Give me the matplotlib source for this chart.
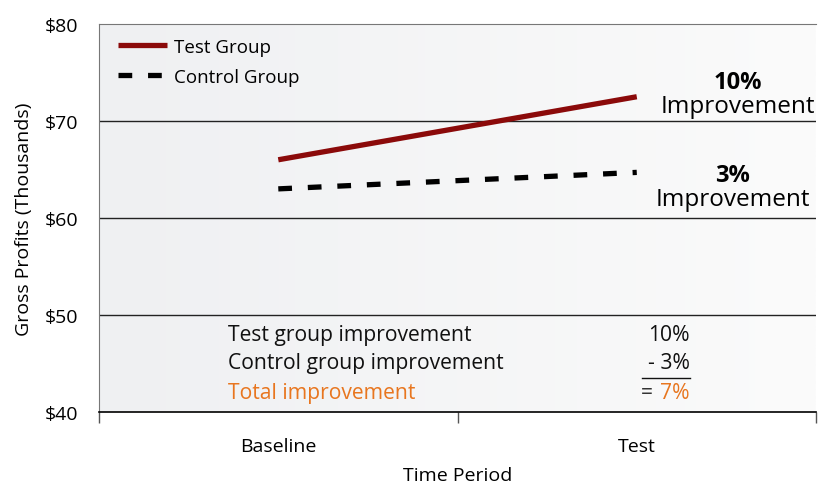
import numpy as np
import matplotlib
matplotlib.use("Agg")
import matplotlib.pyplot as plt

plt.rcParams["font.family"] = ["Open Sans", "DejaVu Sans"]

# data
periods = ["Baseline", "Test"]
test_group = [66.0, 72.5]
control_group = [63.0, 64.7]
y_ticks = [40, 50, 60, 70, 80]
y_labels = ["$40", "$50", "$60", "$70", "$80"]
table_labels = ["Test group improvement", "Control group improvement", "Total improvement"]
table_values = ["10%", "- 3%", "7%"]

red = "#8b0a0a"
orange = "#e8761f"

fig = plt.figure(figsize=(8.33, 4.85), dpi=100)
ax = fig.add_axes([0.1189, 0.1485, 0.8607, 0.8000])

x = np.arange(len(periods))
ax.set_xlim(-0.5, 1.5)
ax.set_ylim(40, 80)

# light gray to white gradient background
grad = np.linspace(0, 1, 256).reshape(1, -1)
cmap = matplotlib.colors.LinearSegmentedColormap.from_list("bg", ["#eff0f2", "#fbfbfb"])
ax.imshow(grad, extent=[-0.5, 1.5, 40, 80], aspect="auto", cmap=cmap, zorder=0)

for yv in [50, 60, 70]:
    ax.axhline(yv, color="#222222", lw=1.0, zorder=1)

ax.plot(x, test_group, color=red, lw=3.8, solid_capstyle="butt", label="Test Group", zorder=3)
ax.plot(x, control_group, color="black", lw=3.8, dashes=(2.6, 3.0), label="Control Group", zorder=3)

leg = ax.legend(loc="upper left", bbox_to_anchor=(0.007, 1.0), frameon=False, fontsize=13.5,
                handlelength=2.6, handletextpad=0.4, labelspacing=0.62, borderaxespad=0.35)

# improvement annotations
ax.text(1.282, 74.0, "10%", fontsize=17, fontweight="bold", ha="center", va="center")
ax.text(1.282, 71.5, "Improvement", fontsize=17.5, ha="center", va="center")
ax.text(1.268, 64.45, "3%", fontsize=17, fontweight="bold", ha="center", va="center")
ax.text(1.268, 62.0, "Improvement", fontsize=17.5, ha="center", va="center")

# summary table
row_y = [47.95, 45.05, 42.05]
for lbl, val, yy, col in zip(table_labels, table_values, row_y,
                             ["#111111", "#111111", orange]):
    ax.text(-0.141, yy, lbl, fontsize=15.2, color=col, ha="left", va="center")
    ax.text(1.148, yy, val, fontsize=15.2, color=col, ha="right", va="center")
ax.text(1.045, row_y[2], "=", fontsize=15.2, color="#333333", ha="right", va="center")
ax.plot([1.015, 1.148], [43.5, 43.5], color="#111111", lw=1.0, zorder=2)

# axes styling
ax.set_yticks(y_ticks)
ax.set_yticklabels(y_labels, fontsize=14)
ax.tick_params(axis="y", length=0, pad=15)
ax.set_xticks(x)
ax.set_xticklabels(periods, fontsize=14)
ax.set_xticks([-0.5, 0.5, 1.5], minor=True)
ax.tick_params(axis="x", which="major", length=0, pad=18)
ax.tick_params(axis="x", which="minor", length=8, width=1.0, color="#555555", direction="out")

ax.set_ylabel("Gross Profits (Thousands)", fontsize=14, labelpad=8)
ax.set_xlabel("Time Period", fontsize=14, labelpad=8)

ax.spines["right"].set_visible(False)
ax.spines["top"].set_color("#777777")
ax.spines["left"].set_color("#777777")
ax.spines["bottom"].set_color("black")
ax.spines["bottom"].set_linewidth(1.2)

plt.savefig("out.png", dpi=100)
